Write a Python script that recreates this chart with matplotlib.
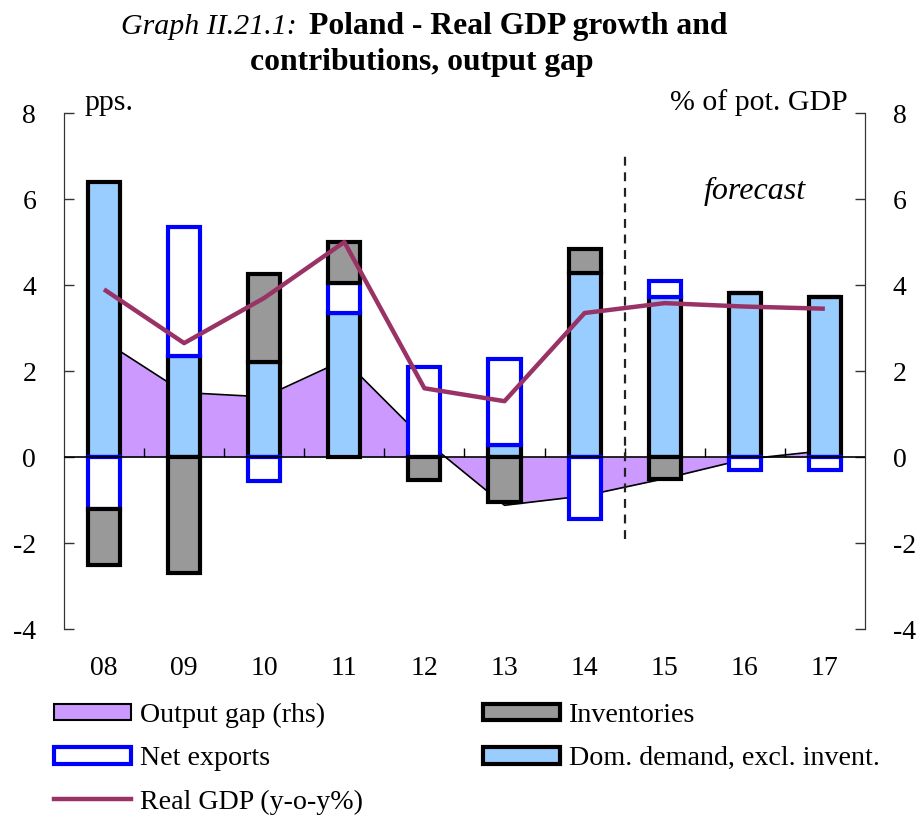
import numpy as np
import matplotlib
matplotlib.use("Agg")
import matplotlib.pyplot as plt
from matplotlib.patches import Patch
from matplotlib.lines import Line2D

plt.rcParams['font.family'] = ['Liberation Serif', 'DejaVu Serif']
plt.rcParams['axes.unicode_minus'] = False

# data
years = ['08', '09', '10', '11', '12', '13', '14', '15', '16', '17']
dom_demand = [6.4, 2.35, 2.2, 3.35, 0.0, 0.28, 4.28, 3.72, 3.81, 3.72]
net_exports = [-1.2, 3.0, -0.55, 0.7, 2.09, 2.0, -1.45, 0.38, -0.3, -0.3]
inventories = [-1.3, -2.7, 2.05, 0.95, -0.53, -1.05, 0.55, -0.5, 0.0, 0.0]
real_gdp = [3.9, 2.65, 3.7, 5.0, 1.6, 1.3, 3.35, 3.58, 3.5, 3.45]
output_gap = [2.7, 1.5, 1.4, 2.26, 0.4, -1.12, -0.9, -0.5, -0.05, 0.15]

c_dd = '#99CCFF'
c_inv = '#999999'
c_nx = '#0000FF'
c_og = '#CC99FF'
c_gdp = '#993366'

x = np.arange(len(years))
bw = 0.4

fig = plt.figure(figsize=(9.22, 8.16), dpi=100)
ax = fig.add_axes([0.0694, 0.229, 0.8687, 0.6325])
ax2 = ax.twinx()

# output gap area on the rhs axis, behind everything
ax2.fill_between(x, 0, output_gap, color=c_og, lw=0)
ax2.plot(x, output_gap, color='black', lw=1.2)
ax.set_zorder(ax2.get_zorder() + 1)
ax.patch.set_visible(False)

# stacked bars, positive and negative parts stacked separately
pos = np.zeros(len(x))
neg = np.zeros(len(x))
series = [(dom_demand, c_dd, 'black'), (net_exports, 'white', c_nx), (inventories, c_inv, 'black')]
for vals, fc, ec in series:
    v = np.array(vals)
    bottom = np.where(v >= 0, pos, neg)
    ax.bar(x, v, bw, bottom=bottom, color=fc, edgecolor=ec, linewidth=3, zorder=3)
    pos = pos + np.where(v > 0, v, 0)
    neg = neg + np.where(v < 0, v, 0)

ax.plot(x, real_gdp, color=c_gdp, lw=3.2, zorder=5, solid_capstyle='butt')

ax.axhline(0, color='black', lw=1.2, zorder=4)
ax.vlines(x[:-1] + 0.5, 0, 0.2, color='black', lw=1, zorder=4)
ax.vlines(6.5, -1.9, 7.0, color='#222222', lw=1.6, linestyles=(0, (4, 3)), zorder=4)

for a in (ax, ax2):
    a.set_ylim(-4, 8)
    a.set_yticks(np.arange(-4, 9, 2))
    a.spines['top'].set_visible(False)
    a.spines['bottom'].set_visible(False)
    a.spines['left'].set_color('#333333')
    a.spines['right'].set_color('#333333')
ax.set_xlim(-0.5, 9.5)
ax.set_xticks(x)
ax.set_xticklabels(years)
ax.tick_params(axis='x', length=0, pad=19, labelsize=20)
ax.tick_params(axis='y', direction='in', length=7, width=1, pad=20, labelsize=20, color='#333333')
ax2.tick_params(axis='y', direction='in', length=7, width=1, pad=20, labelsize=20, color='#333333')

ax.text(0.026, 1.02, 'pps.', transform=ax.transAxes, ha='left', va='center', fontsize=21.5)
ax.text(0.979, 1.02, '% of pot. GDP', transform=ax.transAxes, ha='right', va='center', fontsize=21.5)
ax.text(0.863, 0.847, 'forecast', transform=ax.transAxes, ha='center', va='center',
        fontsize=23, style='italic')

# title
fig.text(0.322, 0.967, 'Graph II.21.1:', ha='right', va='center', fontsize=21.5, style='italic')
fig.text(0.335, 0.967, 'Poland - Real GDP growth and', ha='left', va='center', fontsize=22.8,
         fontweight='bold')
fig.text(0.457, 0.924, 'contributions, output gap', ha='center', va='center', fontsize=22.8,
         fontweight='bold')

handles = [
    Patch(facecolor=c_og, edgecolor='black', linewidth=1.5, label='Output gap (rhs)'),
    Patch(facecolor='white', edgecolor=c_nx, linewidth=3, label='Net exports'),
    Line2D([0], [0], color=c_gdp, lw=3.2, label='Real GDP (y-o-y%)'),
    Patch(facecolor=c_inv, edgecolor='black', linewidth=3, label='Inventories'),
    Patch(facecolor=c_dd, edgecolor='black', linewidth=3, label='Dom. demand, excl. invent.'),
]
fig.legend(handles=handles, loc='upper left', bbox_to_anchor=(0.0435, 0.156), ncol=2,
           frameon=False, fontsize=20.2, handlelength=2.75, handleheight=0.55,
           handletextpad=0.3, labelspacing=0.65, columnspacing=4.3, borderpad=0)

fig.savefig('out.png', dpi=100)
